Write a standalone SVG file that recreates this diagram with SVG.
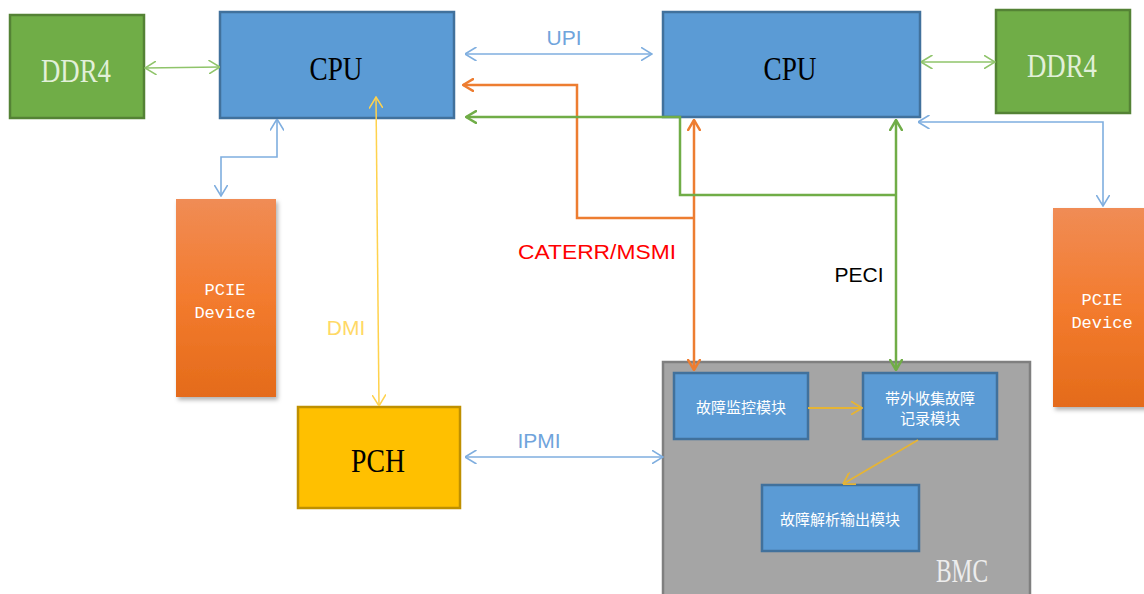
<svg xmlns="http://www.w3.org/2000/svg" width="1144" height="594" viewBox="0 0 1144 594">
<defs>
<style>
.ddr{fill:#70AD47;stroke:#548235;stroke-width:2.5}
.cpu{fill:#5B9BD5;stroke:#41719C;stroke-width:2.5}
.pcie{fill:url(#gOr)}
.pch{fill:#FFC000;stroke:#BF9000;stroke-width:2.5}
.bmc{fill:#A5A5A5;stroke:#7F7F7F;stroke-width:2.5}
.mod{fill:#5B9BD5;stroke:#41719C;stroke-width:2.5}
.big{font-family:"Liberation Serif","DejaVu Serif",serif;font-size:33px;text-anchor:middle}
.mono{font-family:"Liberation Mono","DejaVu Sans Mono",monospace;font-size:17px;fill:#FFFFFF;text-anchor:middle}
.lbl{font-family:"Liberation Sans",Arial,sans-serif;font-size:21px}
.cn{font-family:"Noto Sans CJK SC","Noto Sans",sans-serif;font-size:15px;fill:#FFFFFF;text-anchor:middle}
.c{fill:none}
.cb{stroke:#7FAEDF;stroke-width:1.6}
.cgl{stroke:#8FC46A;stroke-width:1.6}
.co{stroke:#ED7D31;stroke-width:2.5}
.cg{stroke:#70AD47;stroke-width:2.5}
.cy{stroke:#FFD24D;stroke-width:1.5}
.cgd{stroke:#E6B434;stroke-width:1.8}
</style>
<linearGradient id="gOr" x1="0" y1="0" x2="0" y2="1">
<stop offset="0" stop-color="#F08C55"/>
<stop offset="0.5" stop-color="#F37B2E"/>
<stop offset="1" stop-color="#E46B1A"/>
</linearGradient>
<filter id="sh" x="-20%" y="-20%" width="150%" height="150%">
<feDropShadow dx="2" dy="3" stdDeviation="2" flood-color="#000" flood-opacity="0.3"/>
</filter>
<marker id="mB" viewBox="0 0 12 14" refX="11.5" refY="7" markerWidth="12" markerHeight="14" markerUnits="userSpaceOnUse" orient="auto-start-reverse"><path d="M0,0 L11.5,7 L0,14" fill="none" stroke="#7FAEDF" stroke-width="1.6"/></marker>
<marker id="mGL" viewBox="0 0 12 14" refX="11.5" refY="7" markerWidth="12" markerHeight="14" markerUnits="userSpaceOnUse" orient="auto-start-reverse"><path d="M0,0 L11.5,7 L0,14" fill="none" stroke="#8FC46A" stroke-width="1.6"/></marker>
<marker id="mO" viewBox="0 0 12 14" refX="11" refY="7" markerWidth="12" markerHeight="14" markerUnits="userSpaceOnUse" orient="auto-start-reverse"><path d="M0,0.5 L11,7 L0,13.5" fill="none" stroke="#ED7D31" stroke-width="2.5"/></marker>
<marker id="mG" viewBox="0 0 12 14" refX="11" refY="7" markerWidth="12" markerHeight="14" markerUnits="userSpaceOnUse" orient="auto-start-reverse"><path d="M0,0.5 L11,7 L0,13.5" fill="none" stroke="#70AD47" stroke-width="2.5"/></marker>
<marker id="mY" viewBox="0 0 12 14" refX="11.5" refY="7" markerWidth="12" markerHeight="14" markerUnits="userSpaceOnUse" orient="auto-start-reverse"><path d="M0,0 L11.5,7 L0,14" fill="none" stroke="#FFD24D" stroke-width="1.5"/></marker>
<marker id="mGd" viewBox="0 0 12 14" refX="11.5" refY="7" markerWidth="12" markerHeight="14" markerUnits="userSpaceOnUse" orient="auto-start-reverse"><path d="M0,0 L11.5,7 L0,14" fill="none" stroke="#E6B434" stroke-width="1.8"/></marker>
</defs>
<rect width="1144" height="594" fill="#FFFFFF"/>

<g id="ddr4-left"><rect class="ddr" x="10" y="15" width="134" height="103"/><text class="big" x="76" y="82" fill="#E2F0D9" textLength="70" lengthAdjust="spacingAndGlyphs">DDR4</text></g>
<g id="cpu-left"><rect class="cpu" x="220" y="12" width="234" height="106"/><text class="big" x="336" y="80" fill="#000000" textLength="53" lengthAdjust="spacingAndGlyphs">CPU</text></g>
<g id="cpu-right"><rect class="cpu" x="663" y="12" width="257" height="105"/><text class="big" x="790" y="80" fill="#000000" textLength="53" lengthAdjust="spacingAndGlyphs">CPU</text></g>
<g id="ddr4-right"><rect class="ddr" x="996" y="10" width="134" height="103"/><text class="big" x="1062" y="77" fill="#E2F0D9" textLength="70" lengthAdjust="spacingAndGlyphs">DDR4</text></g>
<g id="pcie-left"><rect class="pcie" filter="url(#sh)" x="176" y="199" width="100" height="198"/><text class="mono" x="225" y="295">PCIE</text><text class="mono" x="225" y="318">Device</text></g>
<g id="pcie-right"><rect class="pcie" filter="url(#sh)" x="1053" y="208" width="95" height="199"/><text class="mono" x="1102" y="305">PCIE</text><text class="mono" x="1102" y="328">Device</text></g>
<g id="pch"><rect class="pch" x="298" y="407" width="162" height="101"/><text class="big" x="378" y="472" fill="#000000" textLength="54" lengthAdjust="spacingAndGlyphs">PCH</text></g>
<g id="bmc"><rect class="bmc" x="663" y="362" width="367" height="250"/><text class="big" x="962" y="582" fill="#EDEDED" textLength="52" lengthAdjust="spacingAndGlyphs">BMC</text></g>
<g id="mod-monitor"><rect class="mod" x="674" y="373" width="134" height="66"/><text class="cn" x="741" y="413">故障监控模块</text></g>
<g id="mod-collect"><rect class="mod" x="863" y="373" width="134" height="66"/><text class="cn" x="930" y="404">带外收集故障</text><text class="cn" x="930" y="424">记录模块</text></g>
<g id="mod-parse"><rect class="mod" x="762" y="485" width="157" height="66"/><text class="cn" x="840" y="525">故障解析输出模块</text></g>

<g id="connectors">
<path class="c cgl" d="M145,68 L220,67" marker-start="url(#mGL)" marker-end="url(#mGL)"/>
<path class="c cgl" d="M921,62 L995,62" marker-start="url(#mGL)" marker-end="url(#mGL)"/>
<path class="c cb" d="M465,54 L652,54" marker-start="url(#mB)" marker-end="url(#mB)"/>
<path class="c cb" d="M277,119 L277,157 L221,157 L221,196" marker-start="url(#mB)" marker-end="url(#mB)"/>
<path class="c cb" d="M918,122 L1103,122 L1103,206" marker-start="url(#mB)" marker-end="url(#mB)"/>
<path class="c cb" d="M465,457 L663,457" marker-start="url(#mB)" marker-end="url(#mB)"/>
<path class="c cy" d="M376,97 L379,406" marker-start="url(#mY)" marker-end="url(#mY)"/>
<path class="c co" d="M694,218 L577,218 L577,85 L463,85" marker-end="url(#mO)"/>
<path class="c co" d="M694,120 L694,370" marker-start="url(#mO)" marker-end="url(#mO)"/>
<path class="c cg" d="M896,195 L680,195 L680,117 L466,117" marker-end="url(#mG)"/>
<path class="c cg" d="M896,120 L896,370" marker-start="url(#mG)" marker-end="url(#mG)"/>
<path class="c cgd" d="M808,408 L862,408" marker-end="url(#mGd)"/>
<path class="c cgd" d="M918,440 L843,484" marker-end="url(#mGd)"/>
</g>

<g id="labels">
<text class="lbl" x="564" y="45" fill="#6FA4DC" text-anchor="middle">UPI</text>
<text class="lbl" x="346" y="335" fill="#FFD966" text-anchor="middle">DMI</text>
<text class="lbl" x="539" y="448" fill="#6FA4DC" text-anchor="middle">IPMI</text>
<text class="lbl" x="597" y="259" fill="#FF0000" text-anchor="middle" font-size="23px" textLength="158" lengthAdjust="spacingAndGlyphs">CATERR/MSMI</text>
<text class="lbl" x="859" y="282" fill="#000000" text-anchor="middle" font-size="22px">PECI</text>
</g>
</svg>
